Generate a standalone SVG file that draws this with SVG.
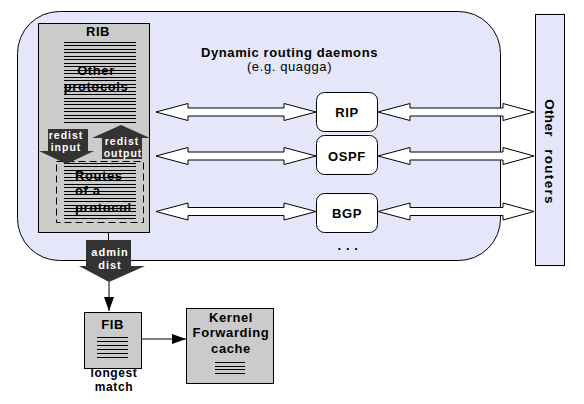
<svg xmlns="http://www.w3.org/2000/svg" width="584" height="404" viewBox="0 0 584 404">
<defs>
<marker id="ah" viewBox="0 0 14 10" refX="14" refY="5" markerWidth="14" markerHeight="10" markerUnits="userSpaceOnUse" orient="auto">
<path d="M0,0 L14,5 L0,10 Z" fill="#000"/>
</marker>
</defs>
<style>
text{font-family:"Liberation Sans",Arial,sans-serif;fill:#000}
.b{font-weight:bold;font-size:13px;letter-spacing:0.6px}
.n{font-size:13px;letter-spacing:0.6px}
.w{fill:#fff;font-size:10.5px;letter-spacing:1px;font-weight:bold}
.box{fill:#cbcbcb;stroke:#000;stroke-width:1}
.lav{fill:#e6e6fa;stroke:#000;stroke-width:1}
.dm{fill:#fff;stroke:#000;stroke-width:1}
.dark{fill:#333;stroke:none}
.ln{stroke:#000;stroke-width:1;fill:none}
.dbl{fill:#fff;stroke:#000;stroke-width:1}
</style>
<rect width="584" height="404" fill="#fff"/>

<g id="daemons-area">
<rect class="lav" x="17.5" y="11.5" width="483" height="249" rx="42" ry="42"/>
<text class="b" x="289.5" y="57" text-anchor="middle">Dynamic routing daemons</text>
<text class="n" x="289.5" y="71" text-anchor="middle">(e.g. quagga)</text>
<text class="b" x="348" y="250" text-anchor="middle">. . .</text>
</g>

<g id="other-routers">
<rect class="lav" x="535.5" y="14.5" width="29" height="251"/>
<text class="b" transform="rotate(90)" x="118" y="-545" text-anchor="middle" style="font-size:13.5px;letter-spacing:0.3px">Other</text>
<text class="b" transform="rotate(90)" x="177" y="-545" text-anchor="middle" style="font-size:13.5px;letter-spacing:1.3px">routers</text>
</g>

<g id="rib">
<rect class="box" x="38.5" y="23.5" width="111" height="209"/>
<text class="b" x="98" y="36" text-anchor="middle">RIB</text>
<path class="ln" d="M64,42.5H136M64,45.5H136M64,49.5H136M64,52.5H136M64,56.5H136M64,59.5H136M64,63.5H136M64,66.5H136M64,70.5H136M64,73.5H136M64,77.5H136M64,80.5H136M64,84.5H136M64,87.5H136M64,91.5H136M64,94.5H136M64,98.5H136M64,101.5H136M64,104.5H136M64,108.5H136M64,111.5H136M64,115.5H136M64,118.5H136M64,122.5H136"/>
<text class="b" x="96" y="75" text-anchor="middle">Other</text>
<text class="b" x="96" y="91" text-anchor="middle">protocols</text>
</g>

<g id="routes-of-a-protocol">
<rect x="56.5" y="161.5" width="87" height="61" fill="none" stroke="#000" stroke-width="1" stroke-dasharray="7,4"/>
<path class="ln" d="M64,163.5H136M64,166.5H136M64,170.5H136M64,173.5H136M64,177.5H136M64,180.5H136M64,184.5H136M64,187.5H136M64,191.5H136M64,194.5H136M64,198.5H136M64,201.5H136M64,205.5H136M64,208.5H136M64,211.5H136M64,215.5H136M64,218.5H136"/>
<text class="b" x="75" y="180">Routes</text>
<text class="b" x="75" y="195">of a</text>
<text class="b" x="75" y="212">protocol</text>
</g>

<g id="redist-input">
<path class="dark" d="M48,129 H88 V151 H94 L66.5,164 L39,151 H48 Z"/>
<text class="w" x="66" y="139" text-anchor="middle">redist</text>
<text class="w" x="66" y="151" text-anchor="middle">input</text>
</g>

<g id="redist-output">
<path class="dark" d="M102,159 V138 H92 L121,125 L150,138 H142 V159 Z"/>
<text class="w" x="122" y="145" text-anchor="middle">redist</text>
<text class="w" x="123" y="157" text-anchor="middle">output</text>
</g>

<g id="admin-dist">
<path class="dark" d="M86,240 H131 V266 H145 L109,282 L79,266 H86 Z"/>
<text class="w" x="110" y="256" text-anchor="middle" style="font-size:11px">admin</text>
<text class="w" x="110" y="269" text-anchor="middle" style="font-size:11px">dist</text>
</g>

<g id="rip">
<rect class="dm" x="316.5" y="92.5" width="61" height="39" rx="8"/>
<text class="b" x="347" y="117" text-anchor="middle">RIP</text>
</g>
<g id="ospf">
<rect class="dm" x="316.5" y="135.5" width="61" height="39" rx="8"/>
<text class="b" x="347" y="161" text-anchor="middle">OSPF</text>
</g>
<g id="bgp">
<rect class="dm" x="316.5" y="193.5" width="61" height="39" rx="8"/>
<text class="b" x="347" y="218" text-anchor="middle">BGP</text>
</g>

<g id="fib">
<rect class="box" x="84.5" y="312.5" width="57" height="56"/>
<text class="b" x="112.5" y="329" text-anchor="middle">FIB</text>
<path class="ln" d="M97,337.5H128M97,341.5H128M97,345.5H128M97,349.5H128M97,353.5H128M97,357.5H128"/>
<text class="b" x="114" y="377" text-anchor="middle" style="font-size:12px">longest</text>
<text class="b" x="114" y="391" text-anchor="middle" style="font-size:12px">match</text>
</g>

<g id="kernel">
<rect class="box" x="186.5" y="308.5" width="87" height="75"/>
<text class="b" x="231" y="322" text-anchor="middle">Kernel</text>
<text class="b" x="231" y="337" text-anchor="middle">Forwarding</text>
<text class="b" x="231" y="353" text-anchor="middle">cache</text>
<path class="ln" d="M215,362.5H245M215,366.5H245M215,369.5H245M215,373.5H245"/>
</g>

<g id="connectors">
<path class="dbl" d="M156,112 L188,103.5 V108 H284 V103.5 L316,112 L284,120.5 V116 H188 V120.5 Z"/>
<path class="dbl" d="M156,156 L188,147.5 V152 H284 V147.5 L316,156 L284,164.5 V160 H188 V164.5 Z"/>
<path class="dbl" d="M156,211.5 L188,203 V207.5 H284 V203 L316,211.5 L284,220 V215.5 H188 V220 Z"/>
<path class="dbl" d="M378,112 L410,103.5 V108 H503 V103.5 L534,112 L503,120.5 V116 H410 V120.5 Z"/>
<path class="dbl" d="M378,156 L410,147.5 V152 H503 V147.5 L534,156 L503,164.5 V160 H410 V164.5 Z"/>
<path class="dbl" d="M378,211.5 L410,203 V207.5 H503 V203 L534,211.5 L503,220 V215.5 H410 V220 Z"/>
<path class="ln" d="M108.5,233 V240"/>
<path class="ln" d="M109,282 V311" marker-end="url(#ah)"/>
<path class="ln" d="M142,339 H186" marker-end="url(#ah)"/>
</g>
</svg>
